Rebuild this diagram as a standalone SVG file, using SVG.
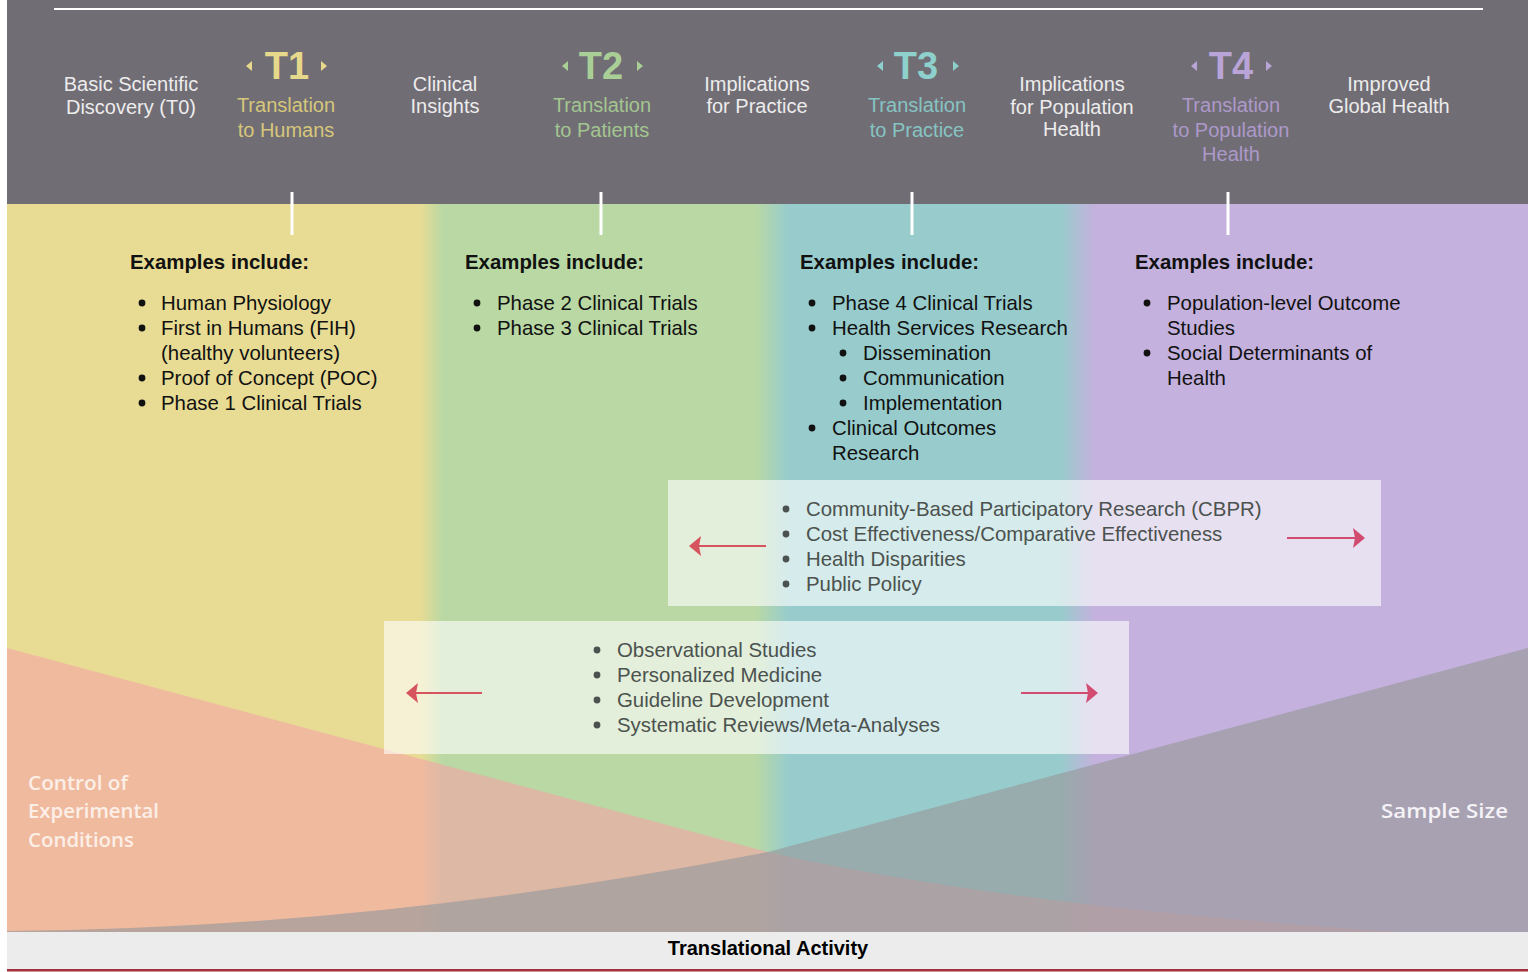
<svg xmlns="http://www.w3.org/2000/svg" width="1533" height="972" viewBox="0 0 1533 972">
<defs>
<linearGradient id="bands" gradientUnits="userSpaceOnUse" x1="0" y1="0" x2="1533" y2="0">
<stop offset="0" stop-color="#e8dc94"/>
<stop offset="0.274" stop-color="#e8dc94"/>
<stop offset="0.289" stop-color="#b9d8a4"/>
<stop offset="0.4925" stop-color="#b9d8a4"/>
<stop offset="0.514" stop-color="#98cccc"/>
<stop offset="0.6915" stop-color="#98cccc"/>
<stop offset="0.7143" stop-color="#c4b1dd"/>
<stop offset="1" stop-color="#c4b1dd"/>
</linearGradient>
<marker id="headL" viewBox="0 0 12 20" refX="11" refY="10" markerWidth="12" markerHeight="20" markerUnits="userSpaceOnUse" orient="auto">
<path d="M0,0 L12,10 L0,20 L2,10 Z" fill="#d6545e"/>
</marker>
<marker id="headR" viewBox="0 0 12 20" refX="11" refY="10" markerWidth="12" markerHeight="20" markerUnits="userSpaceOnUse" orient="auto">
<path d="M0,0 L12,10 L0,20 L2,10 Z" fill="#d24b70"/>
</marker>
<style>
.hw{font-family:"Liberation Sans",Arial,sans-serif;font-size:20px;fill:#ececec;text-anchor:middle}
.tb{font-family:"Liberation Sans",Arial,sans-serif;font-size:38px;font-weight:bold;text-anchor:middle}
.ts{font-family:"Liberation Sans",Arial,sans-serif;font-size:20px;text-anchor:middle}
.eh{font-family:"Liberation Sans",Arial,sans-serif;font-size:20.4px;font-weight:bold;fill:#111}
.et{font-family:"Liberation Sans",Arial,sans-serif;font-size:20.4px;fill:#111}
.bt{font-family:"Liberation Sans",Arial,sans-serif;font-size:20.4px;fill:#4b524f}
.bl{font-family:"Open Sans","Liberation Sans",sans-serif;font-size:20px;font-weight:600}
.tick{stroke:#ffffff;stroke-width:3}
.arrL{stroke:#d6545e;stroke-width:1.8;fill:none;marker-end:url(#headL)}
.arrR{stroke:#d24b70;stroke-width:1.8;fill:none;marker-end:url(#headR)}
.box{fill:#ffffff;fill-opacity:0.6}
</style>
</defs>
<rect x="0" y="0" width="1533" height="972" fill="#ffffff"/>
<!-- header -->
<rect x="7" y="0" width="1521" height="204" fill="#716d75"/>
<line x1="54" y1="9" x2="1483" y2="9" stroke="#ffffff" stroke-width="2"/>
<!-- bands -->
<rect x="7" y="204" width="1521" height="728" fill="url(#bands)"/>
<!-- control of experimental conditions -->
<path d="M7,648 L768,852 Q1000,905 1400,932 L7,932 Z" fill="#f5a3a7" fill-opacity="0.6"/>
<!-- sample size -->
<path d="M1528,648 L768,852 Q380,928 7,931 L7,932 L1528,932 Z" fill="#989a9c" fill-opacity="0.66"/>
<!-- bottom strip -->
<rect x="7" y="932" width="1521" height="37" fill="#ececec"/>
<rect x="7" y="969" width="1521" height="2.5" fill="#a3303c"/>

<g id="header-t0">
<text class="hw" x="131" y="91">Basic Scientific</text>
<text class="hw" x="131" y="114">Discovery (T0)</text>
</g>
<g id="header-t1" fill="#e7d98b">
<polygon points="246,66 252,61 252,71"/>
<polygon points="327,66 321,61 321,71"/>
<text class="tb" x="287" y="79" fill="#e7d98b">T1</text>
<text class="ts" x="286" y="112" fill="#d6c77a">Translation</text>
<text class="ts" x="286" y="137" fill="#d6c77a">to Humans</text>
</g>
<g id="header-clinical">
<text class="hw" x="445" y="91">Clinical</text>
<text class="hw" x="445" y="113">Insights</text>
</g>
<g id="header-t2" fill="#a9cf96">
<polygon points="562,66 568,61 568,71"/>
<polygon points="643,66 637,61 637,71"/>
<text class="tb" x="601" y="79" fill="#a9cf96">T2</text>
<text class="ts" x="602" y="112" fill="#a3c690">Translation</text>
<text class="ts" x="602" y="137" fill="#a3c690">to Patients</text>
</g>
<g id="header-practice">
<text class="hw" x="757" y="91">Implications</text>
<text class="hw" x="757" y="113">for Practice</text>
</g>
<g id="header-t3" fill="#8dd0cc">
<polygon points="877,66 883,61 883,71"/>
<polygon points="959,66 953,61 953,71"/>
<text class="tb" x="916" y="79" fill="#8dd0cc">T3</text>
<text class="ts" x="917" y="112" fill="#86c4c2">Translation</text>
<text class="ts" x="917" y="137" fill="#86c4c2">to Practice</text>
</g>
<g id="header-population">
<text class="hw" x="1072" y="91">Implications</text>
<text class="hw" x="1072" y="114">for Population</text>
<text class="hw" x="1072" y="136">Health</text>
</g>
<g id="header-t4" fill="#b9a4d8">
<polygon points="1191,66 1197,61 1197,71"/>
<polygon points="1272,66 1266,61 1266,71"/>
<text class="tb" x="1231" y="79" fill="#b9a4d8">T4</text>
<text class="ts" x="1231" y="112" fill="#ac99c9">Translation</text>
<text class="ts" x="1231" y="137" fill="#ac99c9">to Population</text>
<text class="ts" x="1231" y="161" fill="#ac99c9">Health</text>
</g>
<g id="header-global">
<text class="hw" x="1389" y="91">Improved</text>
<text class="hw" x="1389" y="113">Global Health</text>
</g>

<g id="col-t1">
<text class="eh" x="130" y="269">Examples include:</text>
<g fill="#111"><circle cx="142" cy="303" r="3.4"/><circle cx="142" cy="328" r="3.4"/><circle cx="142" cy="378" r="3.4"/><circle cx="142" cy="403" r="3.4"/></g>
<text class="et" x="161" y="310">Human Physiology</text>
<text class="et" x="161" y="335">First in Humans (FIH)</text>
<text class="et" x="161" y="360">(healthy volunteers)</text>
<text class="et" x="161" y="385">Proof of Concept (POC)</text>
<text class="et" x="161" y="410">Phase 1 Clinical Trials</text>
</g>
<g id="col-t2">
<text class="eh" x="465" y="269">Examples include:</text>
<g fill="#111"><circle cx="477" cy="303" r="3.4"/><circle cx="477" cy="328" r="3.4"/></g>
<text class="et" x="497" y="310">Phase 2 Clinical Trials</text>
<text class="et" x="497" y="335">Phase 3 Clinical Trials</text>
</g>
<g id="col-t3">
<text class="eh" x="800" y="269">Examples include:</text>
<g fill="#111"><circle cx="812" cy="303" r="3.4"/><circle cx="812" cy="328" r="3.4"/><circle cx="843" cy="353" r="3.4"/><circle cx="843" cy="378" r="3.4"/><circle cx="843" cy="403" r="3.4"/><circle cx="812" cy="428" r="3.4"/></g>
<text class="et" x="832" y="310">Phase 4 Clinical Trials</text>
<text class="et" x="832" y="335">Health Services Research</text>
<text class="et" x="863" y="360">Dissemination</text>
<text class="et" x="863" y="385">Communication</text>
<text class="et" x="863" y="410">Implementation</text>
<text class="et" x="832" y="435">Clinical Outcomes</text>
<text class="et" x="832" y="460">Research</text>
</g>
<g id="col-t4">
<text class="eh" x="1135" y="269">Examples include:</text>
<g fill="#111"><circle cx="1147" cy="303" r="3.4"/><circle cx="1147" cy="353" r="3.4"/></g>
<text class="et" x="1167" y="310">Population-level Outcome</text>
<text class="et" x="1167" y="335">Studies</text>
<text class="et" x="1167" y="360">Social Determinants of</text>
<text class="et" x="1167" y="385">Health</text>
</g>

<g id="box-upper">
<rect class="box" x="668" y="480" width="713" height="126"/>
<g fill="#4b524f"><circle cx="786" cy="509" r="3.4"/><circle cx="786" cy="534" r="3.4"/><circle cx="786" cy="559" r="3.4"/><circle cx="786" cy="584" r="3.4"/></g>
<text class="bt" x="806" y="516">Community-Based Participatory Research (CBPR)</text>
<text class="bt" x="806" y="541">Cost Effectiveness/Comparative Effectiveness</text>
<text class="bt" x="806" y="566">Health Disparities</text>
<text class="bt" x="806" y="591">Public Policy</text>
</g>
<g id="box-lower">
<rect class="box" x="384" y="621" width="745" height="133"/>
<g fill="#4b524f"><circle cx="597" cy="650" r="3.4"/><circle cx="597" cy="675" r="3.4"/><circle cx="597" cy="700" r="3.4"/><circle cx="597" cy="725" r="3.4"/></g>
<text class="bt" x="617" y="657">Observational Studies</text>
<text class="bt" x="617" y="682">Personalized Medicine</text>
<text class="bt" x="617" y="707">Guideline Development</text>
<text class="bt" x="617" y="732">Systematic Reviews/Meta-Analyses</text>
</g>

<g id="connectors">
<line class="tick" x1="292" y1="192" x2="292" y2="235"/>
<line class="tick" x1="601" y1="192" x2="601" y2="235"/>
<line class="tick" x1="912" y1="192" x2="912" y2="235"/>
<line class="tick" x1="1228" y1="192" x2="1228" y2="235"/>
<line class="arrL" x1="766" y1="546" x2="690" y2="546"/>
<line class="arrR" x1="1287" y1="538" x2="1364" y2="538"/>
<line class="arrL" x1="482" y1="693" x2="407" y2="693"/>
<line class="arrR" x1="1021" y1="693" x2="1097" y2="693"/>
</g>

<g id="label-control" class="bl" fill="#fcefe7">
<text x="28" y="790" textLength="100" lengthAdjust="spacingAndGlyphs">Control of</text>
<text x="28" y="818" textLength="131" lengthAdjust="spacingAndGlyphs">Experimental</text>
<text x="28" y="847" textLength="106" lengthAdjust="spacingAndGlyphs">Conditions</text>
</g>
<g id="label-sample" class="bl" fill="#f5f3f7">
<text x="1381" y="818" textLength="127" lengthAdjust="spacingAndGlyphs">Sample Size</text>
</g>
<g id="label-axis">
<text x="768" y="955" text-anchor="middle" font-family="Liberation Sans, Arial, sans-serif" font-size="20" font-weight="bold" fill="#000">Translational Activity</text>
</g>
</svg>
